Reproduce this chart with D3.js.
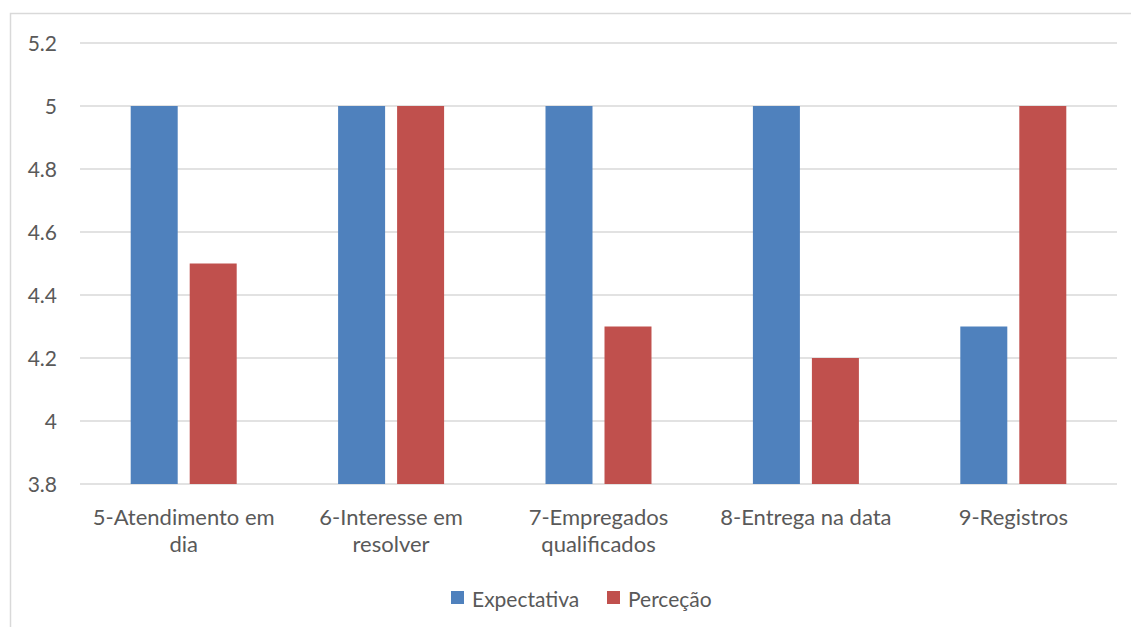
<!DOCTYPE html>
<html>
<head>
<meta charset="utf-8">
<script src="https://cdn.jsdelivr.net/npm/d3@7"></script>
<style>
  html, body { margin: 0; padding: 0; background: #fff; }
  svg { display: block; }
  text { font-family: Lato, "Open Sans", sans-serif; fill: #595959; }
</style>
</head>
<body>
<svg id="chart" width="1131" height="627"></svg>
<script>
// Category labels (line breaks as wrapped in the chart)
const categories = [
  "5-Atendimento em\ndia",
  "6-Interesse em\nresolver",
  "7-Empregados\nqualificados",
  "8-Entrega na data",
  "9-Registros"
];
const seriesNames = ["Expectativa", "Perceção"];
const expectativa = [5, 5, 5, 5, 4.3];
const percecao = [4.5, 5, 4.3, 4.2, 5];
const yTicks = [3.8, 4, 4.2, 4.4, 4.6, 4.8, 5, 5.2];
const colors = ["#4F81BD", "#C0504D"];

const svg = d3.select("#chart");
const W = 1131, H = 627;
const plot = { left: 80, right: 1117, top: 43, bottom: 484 };

// Chart frame
svg.append("rect")
  .attr("x", 10.5).attr("y", 13.5)
  .attr("width", W + 10).attr("height", H)
  .attr("fill", "none").attr("stroke", "#d9d9d9").attr("stroke-width", 1.5);

const x = d3.scaleBand().domain(categories).range([plot.left, plot.right]).paddingInner(0).paddingOuter(0);
const y = d3.scaleLinear().domain([3.8, 5.2]).range([plot.bottom, plot.top]);

// Gridlines
svg.append("g").selectAll("line").data(yTicks).join("line")
  .attr("x1", plot.left).attr("x2", plot.right)
  .attr("y1", d => y(d)).attr("y2", d => y(d))
  .attr("stroke", "#d9d9d9").attr("stroke-width", 1.5);

// Y axis labels
const yAxis = d3.axisLeft(y).tickValues(yTicks).tickSize(0).tickPadding(0)
  .tickFormat(d => d3.format("~g")(d));
const yg = svg.append("g").attr("transform", `translate(${plot.left - 23},0)`).call(yAxis);
yg.select(".domain").remove();
yg.selectAll("text").style("font-size", "21px").attr("fill", "#595959").attr("dy", "0.35em");

// Bars
const barW = x.bandwidth() * 0.2266;
const gap = 12;
const data = [expectativa, percecao];
data.forEach((vals, s) => {
  svg.append("g").selectAll("rect").data(vals).join("rect")
    .attr("x", (d, i) => x(categories[i]) + x.bandwidth() / 2 + (s === 0 ? -gap / 2 - barW : gap / 2))
    .attr("y", d => y(d))
    .attr("width", barW)
    .attr("height", d => y(3.8) - y(d))
    .attr("fill", colors[s]);
});

// Category labels
const xl = svg.append("g");
categories.forEach(c => {
  const t = xl.append("text")
    .attr("x", x(c) + x.bandwidth() / 2)
    .attr("y", 525)
    .attr("text-anchor", "middle")
    .style("font-size", "22px");
  c.split("\n").forEach((ln, k) => {
    t.append("tspan").attr("x", x(c) + x.bandwidth() / 2).attr("dy", k === 0 ? 0 : 27).text(ln);
  });
});

// Legend
const legendX = [451, 607];
seriesNames.forEach((n, i) => {
  svg.append("rect").attr("x", legendX[i]).attr("y", 591).attr("width", 13).attr("height", 13).attr("fill", colors[i]);
  svg.append("text").attr("x", legendX[i] + 21).attr("y", 607).style("font-size", "21px").text(n);
});
</script>
</body>
</html>
